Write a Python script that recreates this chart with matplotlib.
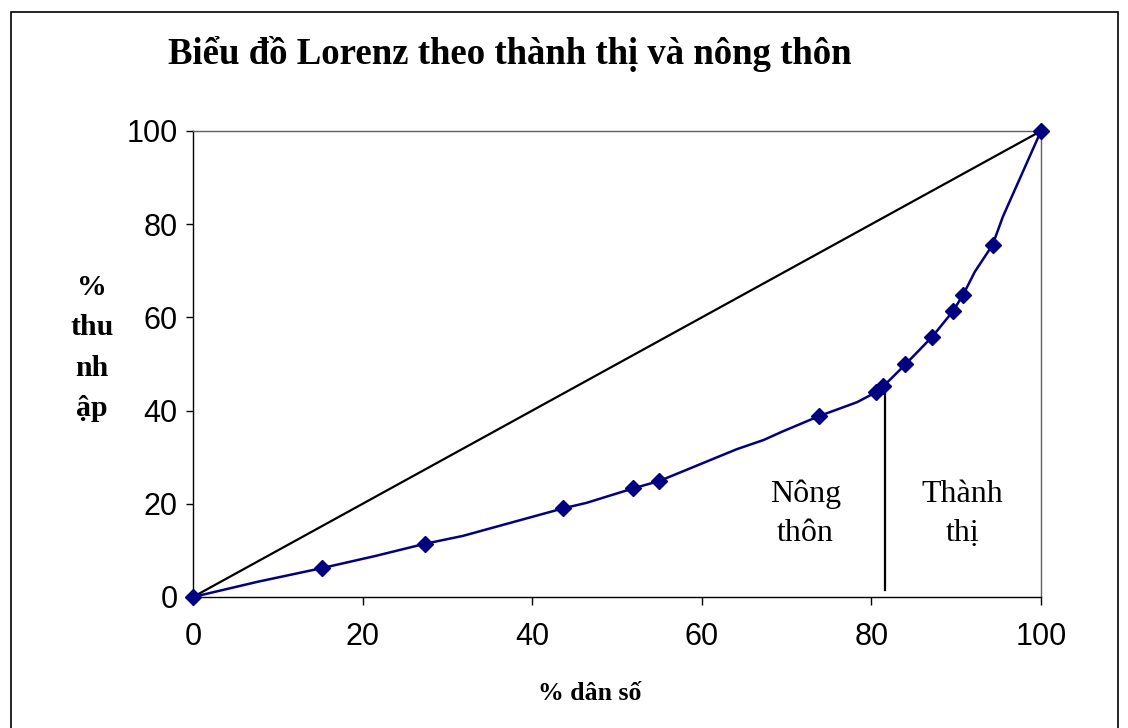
import matplotlib
matplotlib.use("Agg")
import matplotlib.pyplot as plt
from matplotlib.patches import Rectangle

# duong Lorenz (ca diem khong co marker)
line_x = [0, 7.7, 15.2, 21.5, 27.3, 31.8, 43.6, 46.4, 51.9, 55.0, 64.1, 67.3, 69.5,
          73.8, 78.3, 80.5, 81.4, 84.0, 87.2, 89.6, 90.8, 92.2, 94.3, 95.5, 100]
line_y = [0, 3.3, 6.2, 8.8, 11.4, 13.1, 19.0, 20.2, 23.3, 24.9, 31.7, 33.7, 35.5,
          38.8, 41.8, 43.9, 45.2, 49.9, 55.9, 61.3, 64.8, 69.8, 75.6, 81.6, 100]

# cac diem co marker
mark_x = [0, 15.2, 27.3, 43.6, 51.9, 55.0, 73.8, 80.5, 81.4, 84.0, 87.2, 89.6, 90.8, 94.3, 100]
mark_y = [0, 6.2, 11.4, 19.0, 23.3, 24.9, 38.8, 43.9, 45.2, 49.9, 55.9, 61.3, 64.8, 75.6, 100]

equal_x = [0, 100]
equal_y = [0, 100]

split_x = 81.6
split_y = [1.5, 45.4]

ticks = [0, 20, 40, 60, 80, 100]

serif = "Liberation Serif"
sans = "Liberation Sans"

fig = plt.figure(figsize=(11.28, 7.28), dpi=100)
ax = fig.add_axes([193/1128, 1 - 597/728, (1041 - 193)/1128, (597 - 131)/728])

ax.plot(equal_x, equal_y, color="black", lw=1.6, zorder=2)
ax.plot(line_x, line_y, color="#000080", lw=1.8, zorder=3)
ax.plot(mark_x, mark_y, linestyle="none", marker="D", markersize=8.5,
        color="#000080", zorder=4, clip_on=False)
ax.plot([split_x, split_x], split_y, color="black", lw=1.6, zorder=2)

ax.set_xlim(0, 100)
ax.set_ylim(0, 100)
ax.set_xticks(ticks)
ax.set_yticks(ticks)
ax.tick_params(axis="x", direction="out", length=6, width=1, pad=12)
ax.tick_params(axis="y", direction="out", length=5, width=1, pad=6)
for lab in ax.get_xticklabels() + ax.get_yticklabels():
    lab.set_fontfamily(sans)
    lab.set_fontsize(22)

for s in ["top", "right"]:
    ax.spines[s].set_color("#606060")
    ax.spines[s].set_linewidth(1)
for s in ["left", "bottom"]:
    ax.spines[s].set_color("black")
    ax.spines[s].set_linewidth(1)

ax.text(72.2, 17.8, "Nông\nthôn", ha="center", va="center", fontfamily=serif,
        fontsize=23, linespacing=1.45)
ax.text(90.7, 17.8, "Thành\nthị", ha="center", va="center", fontfamily=serif,
        fontsize=23, linespacing=1.45)

fig.text(510/1128, 1 - 54/728, "Biểu đồ Lorenz theo thành thị và nông thôn",
         ha="center", va="center", fontfamily=serif, fontweight="bold", fontsize=26.5)
fig.text(590/1128, 1 - 693/728, "% dân số", ha="center", va="center",
         fontfamily=serif, fontweight="bold", fontsize=18.5)
fig.text(92/1128, 1 - 348/728, "%\nthu\nnh\nập", ha="center", va="center",
         fontfamily=serif, fontweight="bold", fontsize=21.5, linespacing=1.65)

# khung ngoai
fig.patches.append(Rectangle((11/1128, -0.05), (1118 - 11)/1128, 1 - 12/728 + 0.05,
                             transform=fig.transFigure, fill=False,
                             edgecolor="black", lw=1.2))

fig.savefig("out.png", dpi=100)
